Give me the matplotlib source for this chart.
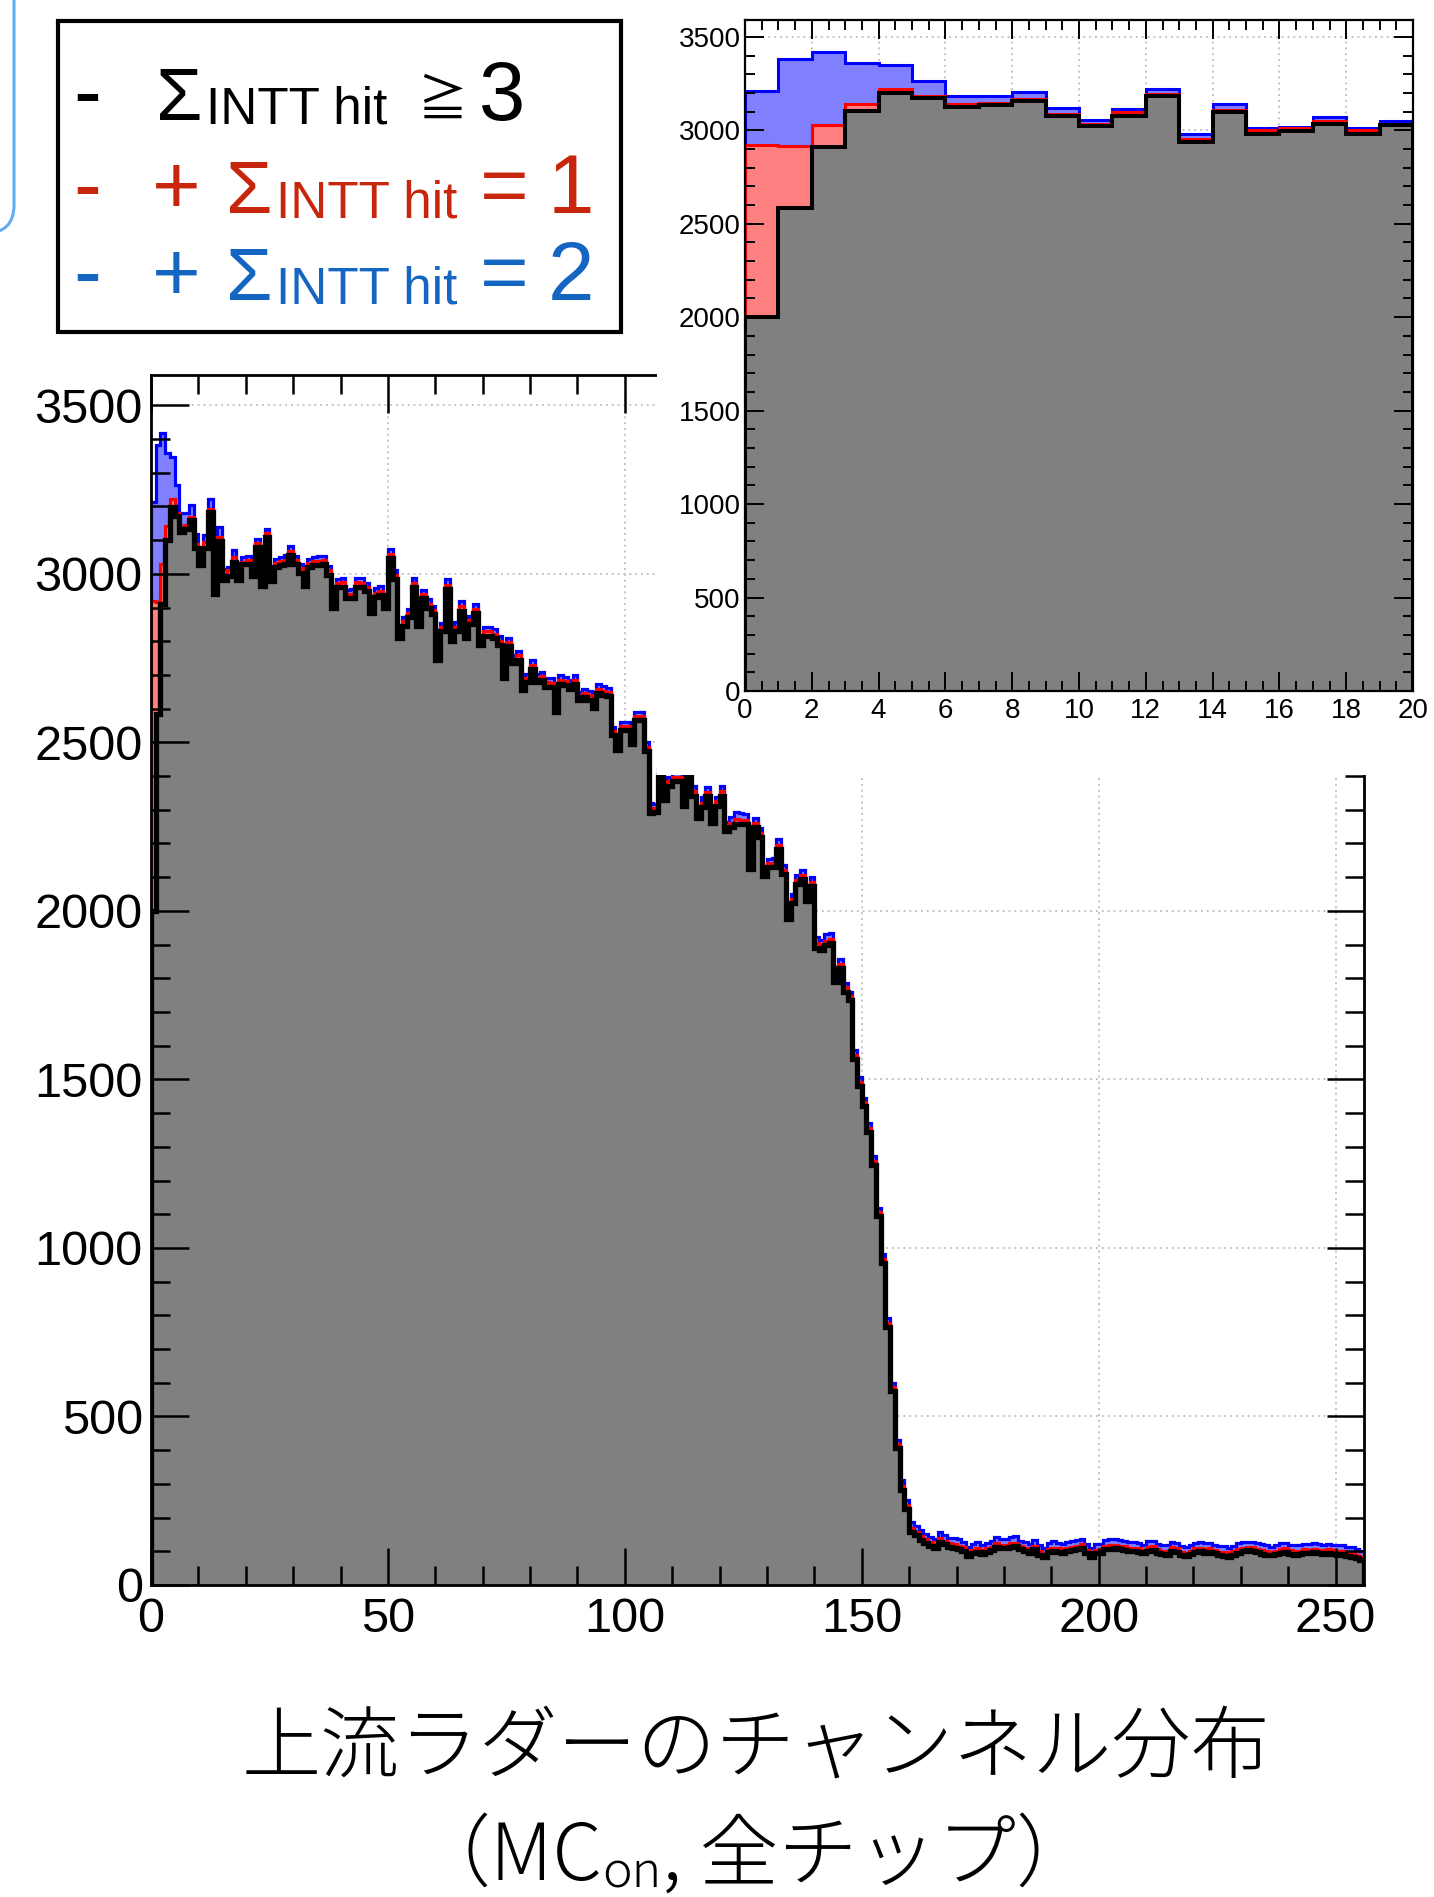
import matplotlib
matplotlib.use("Agg")
import numpy as np
import matplotlib.pyplot as plt
from matplotlib.patches import Rectangle, FancyBboxPatch
from matplotlib.transforms import IdentityTransform
from matplotlib.ticker import MultipleLocator

W, H = 1434, 1897

# channel counts per category (256 channels)
n_ge3 = [
    2000, 2583, 2912, 3101, 3199, 3172, 3124, 3134, 3159, 3076, 3025, 3078, 3184, 2939, 3098, 2982, 2995, 3035, 2982, 3028,
    3029, 2995, 3080, 2965, 3108, 2980, 3019, 3026, 3030, 3056, 3029, 3004, 2963, 3020, 3026, 3026, 3029, 2998, 2900, 2962,
    2962, 2928, 2928, 2962, 2962, 2950, 2885, 2932, 2938, 2900, 3047, 2985, 2810, 2846, 2873, 2962, 2845, 2927, 2900, 2881,
    2745, 2830, 2955, 2800, 2831, 2891, 2810, 2851, 2884, 2790, 2817, 2817, 2810, 2790, 2690, 2785, 2735, 2745, 2655, 2678,
    2717, 2680, 2685, 2665, 2665, 2590, 2673, 2670, 2658, 2673, 2625, 2634, 2627, 2603, 2646, 2640, 2638, 2523, 2477, 2537,
    2537, 2495, 2566, 2566, 2473, 2290, 2292, 2398, 2330, 2372, 2384, 2384, 2312, 2398, 2342, 2275, 2307, 2342, 2262, 2312,
    2342, 2238, 2248, 2258, 2258, 2258, 2125, 2248, 2220, 2105, 2131, 2131, 2184, 2110, 1975, 2022, 2080, 2095, 2030, 2075,
    1890, 1885, 1900, 1905, 1790, 1830, 1760, 1735, 1560, 1480, 1420, 1345, 1245, 1095, 955, 765, 575, 405, 282, 226,
    157, 147, 134, 124, 117, 110, 127, 122, 114, 110, 107, 102, 87, 94, 99, 92, 99, 104, 114, 110,
    110, 114, 116, 107, 100, 94, 106, 90, 83, 97, 100, 99, 96, 100, 104, 106, 110, 94, 83, 94,
    96, 107, 107, 110, 107, 104, 101, 100, 98, 95, 102, 104, 96, 92, 90, 102, 99, 88, 85, 92,
    98, 100, 96, 98, 94, 88, 86, 84, 90, 96, 100, 104, 102, 97, 93, 90, 88, 92, 96, 99,
    93, 90, 92, 96, 94, 98, 95, 92, 96, 93, 90, 91, 86, 84, 80, 74,
]
n_eq1 = [
    919, 334, 118, 40, 23, 10, 15, 12, 10, 12, 8, 18, 8, 13, 11, 18, 15, 15, 18, 7,
    12, 13, 12, 12, 13, 12, 12, 13, 12, 13, 12, 12, 13, 12, 12, 13, 12, 12, 13, 12,
    13, 12, 12, 13, 12, 12, 13, 12, 12, 13, 13, 12, 12, 13, 12, 12, 13, 12, 12, 13,
    12, 12, 13, 12, 12, 13, 12, 12, 13, 12, 12, 13, 12, 12, 13, 12, 12, 13, 12, 12,
    13, 12, 12, 13, 12, 12, 13, 12, 12, 13, 12, 12, 13, 12, 12, 13, 12, 12, 13, 12,
    12, 13, 12, 12, 13, 14, 12, 12, 13, 12, 12, 13, 12, 12, 13, 12, 14, 12, 12, 13,
    14, 12, 13, 14, 12, 12, 13, 12, 12, 13, 12, 12, 13, 12, 12, 13, 12, 12, 13, 12,
    15, 14, 12, 13, 12, 12, 13, 12, 12, 13, 12, 12, 13, 12, 12, 13, 12, 12, 11, 11,
    11, 10, 10, 11, 10, 10, 11, 10, 10, 11, 10, 10, 11, 10, 10, 11, 10, 10, 11, 10,
    10, 11, 10, 10, 11, 10, 10, 11, 10, 10, 11, 10, 10, 11, 10, 10, 11, 10, 10, 11,
    10, 10, 11, 10, 10, 11, 10, 10, 11, 10, 10, 11, 10, 10, 11, 10, 10, 11, 10, 10,
    11, 10, 10, 11, 10, 10, 11, 10, 10, 11, 10, 10, 11, 10, 10, 11, 10, 10, 11, 10,
    10, 11, 10, 10, 11, 10, 10, 11, 10, 10, 11, 10, 10, 11, 10, 10,
]
n_eq2 = [
    293, 464, 389, 218, 126, 81, 43, 36, 36, 31, 20, 18, 30, 28, 30, 13, 10, 21, 13, 15,
    13, 12, 12, 14, 12, 13, 14, 12, 14, 13, 12, 12, 14, 13, 12, 13, 12, 14, 13, 12,
    12, 13, 14, 12, 13, 12, 12, 13, 13, 12, 15, 13, 12, 14, 12, 13, 12, 13, 14, 12,
    13, 12, 16, 12, 13, 14, 12, 13, 14, 12, 13, 12, 13, 14, 12, 13, 12, 14, 13, 12,
    14, 12, 13, 12, 14, 12, 13, 12, 14, 13, 12, 12, 13, 12, 14, 13, 12, 12, 13, 12,
    12, 13, 13, 12, 14, 15, 12, 13, 14, 12, 13, 12, 14, 12, 15, 13, 18, 14, 13, 14,
    16, 13, 18, 22, 20, 18, 14, 16, 14, 13, 12, 13, 16, 14, 13, 14, 16, 13, 14, 13,
    18, 16, 20, 16, 13, 14, 12, 13, 14, 13, 14, 15, 14, 13, 14, 13, 12, 14, 18, 16,
    18, 18, 18, 17, 16, 17, 18, 17, 16, 19, 18, 17, 16, 17, 18, 15, 16, 17, 18, 17,
    16, 17, 18, 15, 16, 17, 18, 17, 16, 17, 19, 17, 16, 17, 18, 17, 16, 17, 18, 17,
    16, 17, 18, 17, 16, 17, 18, 17, 16, 15, 18, 17, 16, 17, 18, 17, 16, 17, 19, 17,
    16, 17, 18, 17, 16, 17, 18, 17, 16, 17, 18, 15, 16, 17, 18, 17, 16, 17, 18, 17,
    16, 17, 18, 17, 16, 17, 18, 17, 16, 17, 18, 17, 16, 17, 18, 17,
]

main_xticks = [0, 50, 100, 150, 200, 250]
main_yticks = [0, 500, 1000, 1500, 2000, 2500, 3000, 3500]
inset_xticks = [0, 2, 4, 6, 8, 10, 12, 14, 16, 18, 20]
n_inset = 20

xlabel_1 = "上流ラダーのチャンネル分布"
legend_rows = [
    ("", "≧", "3", "black"),
    ("+", "=", "1", "#c8260c"),
    ("+", "=", "2", "#1565c2"),
]

plt.rcParams['font.family'] = ['Liberation Sans', 'DejaVu Sans']
CJK = ['Noto Sans CJK JP', 'DejaVu Sans']

ge3 = np.array(n_ge3, dtype=float)
with1 = ge3 + np.array(n_eq1)
with2 = with1 + np.array(n_eq2)
edges = np.arange(len(ge3) + 1)

fig = plt.figure(figsize=(W / 100, H / 100), dpi=100)


def frac(x, y):
    return x / W, 1 - y / H


def draw_hist(ax, sl, lw_main, lw_thin):
    e = edges[:sl + 1] if sl else edges
    for vals, fc, lc, lw, z in [(with2, "#8080ff", "#0000ff", lw_thin, 1.0),
                                (with1, "#ff8080", "#ff0000", lw_thin, 1.2),
                                (ge3, "#808080", "black", lw_main, 1.4)]:
        v = vals[:sl] if sl else vals
        ax.stairs(v, e, fill=True, color=fc, lw=0, zorder=z)
        ax.stairs(v, e, color=lc, lw=lw, zorder=z + 0.1)


def dotted_grid(ax, xs, ys):
    for x in xs:
        ax.axvline(x, color="#c4c4c4", lw=1.4, ls=(0, (1, 2)), zorder=0.5)
    for y in ys:
        ax.axhline(y, color="#c4c4c4", lw=1.4, ls=(0, (1, 2)), zorder=0.5)


# main histogram
l, t, r, b = 151, 375, 1364, 1585
ax = fig.add_axes([l / W, 1 - b / H, (r - l) / W, (b - t) / H])
ax.set_zorder(0)
draw_hist(ax, None, 3.8, 2.3)
dotted_grid(ax, main_xticks[1:], main_yticks[1:])
ax.set_xlim(0, 256)
ax.set_ylim(0, 3590)
ax.set_xticks(main_xticks)
ax.set_yticks(main_yticks)
ax.xaxis.set_minor_locator(MultipleLocator(10))
ax.yaxis.set_minor_locator(MultipleLocator(100))
ax.set_axisbelow(False)
ax.tick_params(which="both", direction="in", top=True, right=True, width=1.8)
ax.tick_params(which="major", length=27, labelsize=35)
ax.tick_params(which="minor", length=13.5)
ax.tick_params(axis="x", pad=9)
ax.tick_params(axis="y", pad=6)
for s in ax.spines.values():
    s.set_linewidth(2.0)

# white pad behind the inset
fig.add_artist(Rectangle(frac(657, 775), (W - 657) / W, 775 / H, transform=fig.transFigure,
                         facecolor="white", edgecolor="none", zorder=1))

# inset: first 20 channels
l, t, r, b = 745, 20, 1413, 691
axi = fig.add_axes([l / W, 1 - b / H, (r - l) / W, (b - t) / H])
axi.set_zorder(2)
draw_hist(axi, n_inset, 2.9, 2.2)
dotted_grid(axi, inset_xticks[1:], main_yticks[1:])
axi.set_xlim(0, 20)
axi.set_ylim(0, 3590)
axi.set_xticks(inset_xticks)
axi.set_yticks(main_yticks)
axi.xaxis.set_minor_locator(MultipleLocator(0.5))
axi.yaxis.set_minor_locator(MultipleLocator(100))
axi.set_axisbelow(False)
axi.tick_params(which="both", direction="in", top=True, right=True, width=1.4)
axi.tick_params(which="major", length=13.5, labelsize=20)
axi.tick_params(which="minor", length=7)
axi.tick_params(axis="x", pad=5)
axi.tick_params(axis="y", pad=3)
for s in axi.spines.values():
    s.set_linewidth(1.6)

# light-blue rounded box edge at far left
fig.add_artist(FancyBboxPatch((-200, H - 233), 214, 400, boxstyle="round,pad=0,rounding_size=28",
                              transform=IdentityTransform(), fill=False, edgecolor="#62aef5", lw=2.2))

# legend box
fig.add_artist(Rectangle(frac(58, 332), (621 - 58) / W, (332 - 21) / H, transform=fig.transFigure,
                         fill=False, edgecolor="black", lw=3.0, zorder=3))

baselines = [120, 213, 300]
for (plus, rel, num, col), yb in zip(legend_rows, baselines):
    dx = 0 if plus else -70
    fig.text(*frac(73, yb), "-", fontsize=60, color=col, va="baseline")
    if plus:
        fig.text(*frac(152, yb), plus, fontsize=60, color=col, va="baseline")
    fig.text(*frac(226 + dx, yb), "Σ", fontsize=54, color=col, va="baseline")
    fig.text(*frac(276 + dx, yb + 4), "INTT hit", fontsize=37, color=col, va="baseline")
    if rel == "≧":
        fig.text(*frac(417, yb - 4), rel, fontsize=36, color=col, va="baseline", family=CJK)
        fig.text(*frac(479, yb), num, fontsize=60, color=col, va="baseline")
    else:
        fig.text(*frac(480, yb), rel, fontsize=60, color=col, va="baseline")
        fig.text(*frac(548, yb), num, fontsize=60, color=col, va="baseline")

# caption
fig.text(*frac(756, 1772), xlabel_1, fontsize=57, family=CJK, fontweight="light",
         ha="center", va="baseline")

runs = [("（MC", 57, 0), ("on", 36, 8), (", 全チップ）", 57, 0)]
rend = fig.canvas.get_renderer()
arts = [fig.text(0, 0, s, fontsize=fs, family=CJK, fontweight="light", va="baseline")
        for s, fs, _ in runs]
widths = [a.get_window_extent(rend).width for a in arts]
x = 753 - sum(widths) / 2
for a, (s, fs, dy), w in zip(arts, runs, widths):
    a.set_position(frac(x, 1880 + dy))
    x += w

fig.savefig("out.png", dpi=100)
